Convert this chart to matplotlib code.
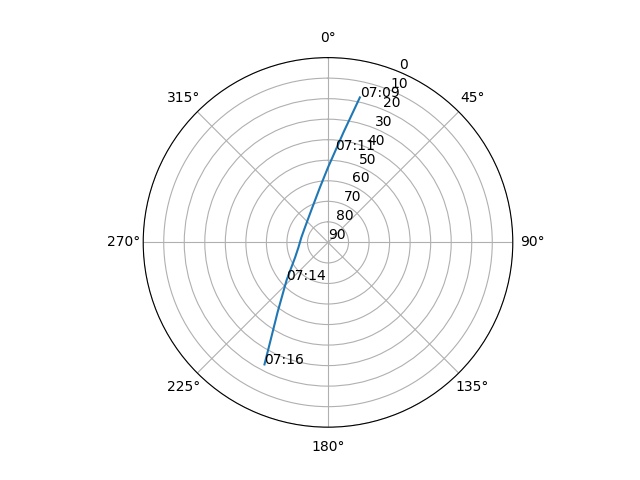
import matplotlib
matplotlib.use("Agg")
import matplotlib.pyplot as plt
import numpy as np

# pass track: azimuth (deg, clockwise from north, unwrapped) and elevation (deg)
azimuth = [12.4, 8.0, 4.7, 0.0, -8.3, -24.0, -37.8, -56.9, -79.4, -99.6, -114.5, -132.5, -144.2, -149.9, -152.5]
elevation = [17.7, 35.9, 45.0, 53.5, 62.9, 71.3, 74.6, 76.6, 76.8, 75.4, 72.4, 62.6, 48.0, 33.7, 23.0]

# time labels placed on the track
label_index = [0, 2, 11, 14]
label_text = ["07:09", "07:11", "07:14", "07:16"]

radial_ticks = list(range(0, 91, 10))


def main() -> None:
    fig = plt.figure(figsize=(6.4, 4.8), dpi=100)
    ax = fig.add_subplot(projection="polar")
    ax.set_theta_zero_location("N")
    ax.set_theta_direction(-1)

    theta = np.radians(azimuth)
    ax.plot(theta, elevation)

    for idx, text in zip(label_index, label_text):
        ax.text(theta[idx], elevation[idx], text)

    ax.set_ylim(90, 0)
    ax.set_yticks(radial_ticks)
    ax.grid(True)

    fig.savefig("out.png", dpi=100)
    plt.close(fig)


if __name__ == "__main__":
    main()
